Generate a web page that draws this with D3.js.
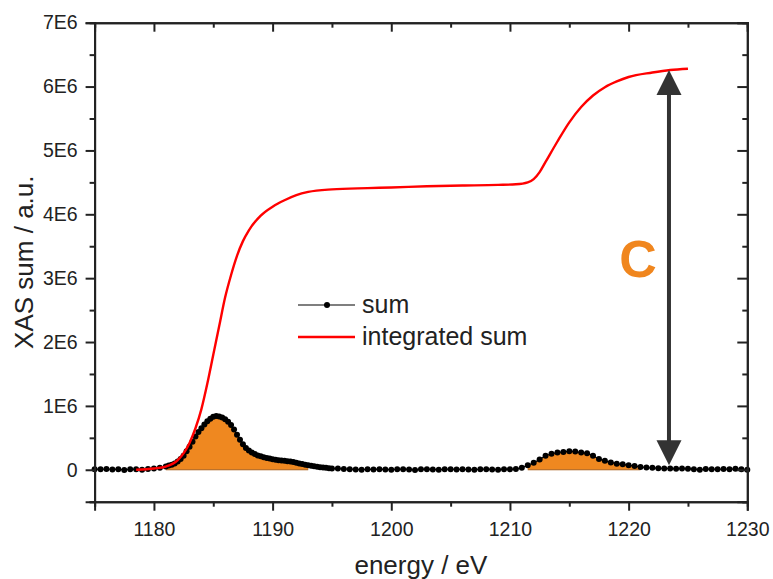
<!DOCTYPE html>
<html><head><meta charset="utf-8">
<script src="https://cdn.jsdelivr.net/npm/d3@7"></script>
<style>
html,body{margin:0;padding:0;background:#fff;}
svg{display:block;font-family:"Liberation Sans",Arial,sans-serif;}
</style></head>
<body>
<svg id="c" width="773" height="579"></svg>
<script>
// ---------- data ----------
const energy = [1175,1175.5,1176,1176.5,1177,1177.5,1178,1178.5,1179,1179.5,1180,1180.5,1181,
1181.25,1181.5,1181.75,1182,1182.25,1182.5,1182.75,1183,1183.25,1183.5,1183.75,1184,1184.25,1184.5,1184.75,1185,
1185.25,1185.5,1185.75,1186,1186.25,1186.5,1186.75,1187,1187.25,1187.5,1187.75,1188,1188.25,1188.5,1188.75,1189,
1189.25,1189.5,1189.75,1190,1190.25,1190.5,1190.75,1191,1191.25,1191.5,1191.75,1192,1192.25,1192.5,1192.75,1193,
1193.25,1193.5,1193.75,1194,1194.25,1194.5,1194.75,1195,
1195.5,1196,1196.5,1197,1197.5,1198,1198.5,1199,1199.5,1200,1200.5,1201,1201.5,1202,1202.5,1203,1203.5,1204,1204.5,1205,
1205.5,1206,1206.5,1207,1207.5,1208,1208.5,1209,1209.5,1210,1210.5,1211,1211.5,1212,1212.5,1213,1213.5,1214,1214.5,1215,
1215.5,1216,1216.5,1217,1217.5,1218,1218.5,1219,1219.5,1220,1220.5,1221,1221.5,1222,1222.5,1223,1223.5,1224,1224.5,1225,
1225.5,1226,1226.5,1227,1227.5,1228,1228.5,1229,1229.5,1230];
// sum in units of 1E6
const sumValues = [0.010,0.008,0.012,0.005,0.010,-0.005,0.008,0.010,0.000,0.012,0.020,0.030,0.050,
0.065,0.080,0.100,0.130,0.170,0.220,0.290,0.360,0.440,0.520,0.590,0.650,0.710,0.760,0.800,0.830,
0.840,0.835,0.820,0.790,0.750,0.700,0.630,0.550,0.470,0.400,0.340,0.300,0.270,0.245,0.225,0.210,
0.195,0.185,0.175,0.165,0.158,0.150,0.145,0.140,0.135,0.128,0.120,0.110,0.100,0.090,0.080,0.070,
0.062,0.055,0.048,0.040,0.035,0.030,0.025,0.020,
0.018,0.012,0.010,0.005,0.000,0.008,0.005,0.010,0.005,0.000,0.008,0.010,0.005,-0.005,0.008,0.010,0.005,0.000,0.008,0.010,
0.005,0.008,0.003,0.000,0.008,0.010,0.005,0.000,0.010,0.008,0.012,0.030,0.070,0.110,0.160,0.220,0.250,0.270,0.280,0.290,
0.285,0.270,0.260,0.220,0.170,0.140,0.115,0.095,0.085,0.070,0.060,0.045,0.035,0.030,0.025,0.020,0.020,0.015,0.020,0.015,
0.010,0.000,0.012,0.010,0.008,0.012,0.010,0.015,0.010,0.000];

const intEnergy = [1178.5,1180,1181,1182,1183,1183.5,1184,1184.5,1185,1185.5,1186,1186.5,1187,1187.5,1188,1189,1190,1191,1192,1193,
1195,1198,1200,1203,1206,1209,1210.5,1211.5,1212,1212.5,1213,1214,1215,1216,1217,1218,1219,1220,1222,1223.5,1225];
const intValues = [0.00,0.02,0.05,0.15,0.42,0.65,0.95,1.35,1.80,2.25,2.70,3.05,3.35,3.58,3.75,3.98,4.12,4.22,4.30,4.35,
4.39,4.41,4.42,4.44,4.45,4.46,4.47,4.50,4.55,4.66,4.82,5.14,5.44,5.68,5.86,5.99,6.08,6.15,6.22,6.26,6.28];

const fillRanges = [[1181, 1193], [1211.5, 1221]];
const arrowEnergy = 1223.4, arrowFrom = 0.07, arrowTo = 6.26;

const xTicks = [1180,1190,1200,1210,1220,1230];
const xMinor = [1175,1185,1195,1205,1215,1225];
const yTicks = [0,1,2,3,4,5,6,7];
const yTickLabels = ["0","1E6","2E6","3E6","4E6","5E6","6E6","7E6"];
const yMinor = [-0.5,0.5,1.5,2.5,3.5,4.5,5.5,6.5];
const legendLabels = ["sum","integrated sum"];

// ---------- layout ----------
const PL = 94.6, PR = 747.3, PT = 22.7, PB = 501.7;
const x = d3.scaleLinear().domain([1175,1230]).range([PL,PR]);
const y = d3.scaleLinear().domain([-0.5,7]).range([PB,PT]);
const svg = d3.select("#c");
const axisCol = "#222";

const sumData = energy.map((e,i)=>({e, v:sumValues[i]}));
const intData = intEnergy.map((e,i)=>({e, v:intValues[i]}));

// fills
const area = d3.area().x(d=>x(d.e)).y0(y(0)).y1(d=>y(d.v)).curve(d3.curveLinear);
fillRanges.forEach(([a,b])=>{
  const seg = sumData.filter(d=>d.e>=a && d.e<=b);
  svg.append("path").attr("d", area(seg)).attr("fill","#EF8820").attr("stroke","none");
  svg.append("line").attr("x1",x(a)).attr("x2",x(b)).attr("y1",y(0)).attr("y2",y(0))
    .attr("stroke","#a8601c").attr("stroke-width",1);
});

// sum line + dots
svg.append("path").attr("d", d3.line().x(d=>x(d.e)).y(d=>y(d.v))(sumData))
  .attr("fill","none").attr("stroke","#000").attr("stroke-width",1.2);
svg.append("g").selectAll("circle").data(sumData).join("circle")
  .attr("cx",d=>x(d.e)).attr("cy",d=>y(d.v)).attr("r",3).attr("fill","#000");

// integrated line
svg.append("path").attr("d", d3.line().x(d=>x(d.e)).y(d=>y(d.v)).curve(d3.curveMonotoneX)(intData))
  .attr("fill","none").attr("stroke","#ff0000").attr("stroke-width",2.4);

// axes
const axB = d3.axisBottom(x).tickValues(xTicks).tickSize(9).tickPadding(11).tickFormat(d3.format("d"));
const axBm = d3.axisBottom(x).tickValues(xMinor).tickSize(5).tickFormat("");
const axL = d3.axisLeft(y).tickValues(yTicks).tickSize(9).tickPadding(8).tickFormat((d,i)=>yTickLabels[i]);
const axLm = d3.axisLeft(y).tickValues(yMinor).tickSize(5).tickFormat("");
const axT = d3.axisTop(x).tickValues(xTicks).tickSize(-9).tickFormat("");
const axTm = d3.axisTop(x).tickValues(xMinor).tickSize(-5).tickFormat("");
const axR = d3.axisRight(y).tickValues(yTicks).tickSize(-10).tickFormat("");
const axRm = d3.axisRight(y).tickValues(yMinor).tickSize(-5).tickFormat("");

function styleAxis(g){
  g.selectAll(".domain").attr("stroke",axisCol).attr("stroke-width",2);
  g.selectAll(".tick line").attr("stroke",axisCol).attr("stroke-width",2);
  g.selectAll(".tick text").attr("fill","#222").style("font-size","19.5px").style("font-family","'Liberation Sans',Arial,sans-serif");
}
[[axB,`translate(0,${PB})`],[axBm,`translate(0,${PB})`],[axL,`translate(${PL},0)`],[axLm,`translate(${PL},0)`],
 [axT,`translate(0,${PT})`],[axTm,`translate(0,${PT})`],[axR,`translate(${PR},0)`],[axRm,`translate(${PR},0)`]]
 .forEach(([ax,tr])=>{ svg.append("g").attr("transform",tr).call(ax).call(styleAxis); });

// axis titles
svg.append("text").attr("x",(PL+PR)/2).attr("y",574).attr("text-anchor","middle")
  .attr("fill","#222").style("font-size","26px").text("energy / eV");
svg.append("text").attr("transform",`translate(33,${(PT+PB)/2}) rotate(-90)`).attr("text-anchor","middle")
  .attr("fill","#222").style("font-size","26px").text("XAS sum / a.u.");

// legend
const lg = svg.append("g");
lg.append("line").attr("x1",298).attr("x2",355).attr("y1",305).attr("y2",305).attr("stroke","#000").attr("stroke-width",1.2);
lg.append("circle").attr("cx",327).attr("cy",305).attr("r",3).attr("fill","#000");
lg.append("line").attr("x1",298).attr("x2",355).attr("y1",337).attr("y2",337).attr("stroke","#ff0000").attr("stroke-width",2.4);
lg.selectAll("text").data(legendLabels).join("text").attr("x",362).attr("y",(d,i)=>313+i*32)
  .attr("fill","#222").style("font-size","25px").text(d=>d);

// arrow
const ax0 = x(arrowEnergy), yTop = y(arrowTo), yBot = y(arrowFrom);
const headH = 25, headW = 12.5;
svg.append("line").attr("x1",ax0).attr("x2",ax0).attr("y1",yTop+headH-2).attr("y2",yBot-headH+2)
  .attr("stroke","#333").attr("stroke-width",4);
svg.append("path").attr("d",`M${ax0},${yTop} L${ax0-headW},${yTop+headH} L${ax0+headW},${yTop+headH} Z`).attr("fill","#333");
svg.append("path").attr("d",`M${ax0},${yBot} L${ax0-headW},${yBot-headH} L${ax0+headW},${yBot-headH} Z`).attr("fill","#333");
svg.append("text").attr("x",638).attr("y",277).attr("text-anchor","middle").attr("fill","#F0861E")
  .style("font-size","52px").style("font-weight","bold").text("C");
</script>
</body></html>
